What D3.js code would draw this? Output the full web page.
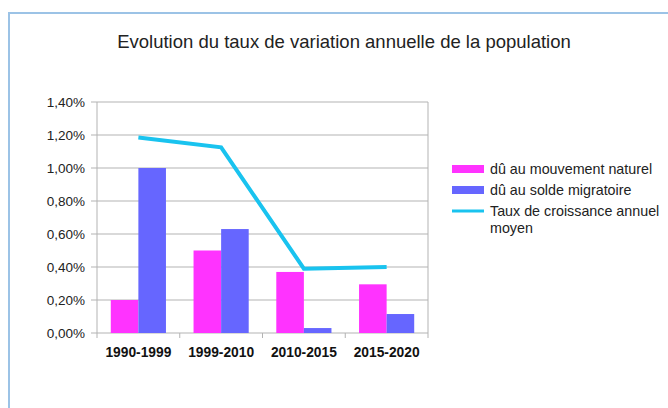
<!DOCTYPE html>
<html>
<head>
<meta charset="utf-8">
<script src="https://cdn.jsdelivr.net/npm/d3@7"></script>
<style>
  body { margin: 0; background: #fff; }
  svg { display: block; font-family: 'Liberation Sans', Arial, sans-serif; }
</style>
</head>
<body>
<div id="chart"></div>
<script>
const categories = ['1990-1999', '1999-2010', '2010-2015', '2015-2020'];
const naturel = [0.20, 0.50, 0.37, 0.295];
const migratoire = [1.00, 0.63, 0.03, 0.115];
const croissance = [1.185, 1.125, 0.39, 0.40];
const yTicks = [0, 0.2, 0.4, 0.6, 0.8, 1.0, 1.2, 1.4];
const seriesNames = ['dû au mouvement naturel', 'dû au solde migratoire', 'Taux de croissance annuel moyen'];

const width = 668;
const height = 408;
const margin = { top: 102, left: 97, right: 240, bottom: 75 };

const svg = d3.select('#chart')
  .append('svg')
  .attr('width', width)
  .attr('height', height);

// outer frame
svg.append('rect')
  .attr('x', 9)
  .attr('y', 13)
  .attr('width', 700)
  .attr('height', 500)
  .attr('fill', 'none')
  .attr('stroke', '#9cc3e6')
  .attr('stroke-width', 2);

svg.append('text')
  .text('Evolution du taux de variation annuelle de la population')
  .attr('x', 344)
  .attr('y', 48)
  .attr('text-anchor', 'middle')
  .attr('fill', '#222')
  .style('font-size', '18.5px');

const x = d3.scaleBand()
  .domain(categories)
  .range([margin.left, margin.left + 331]);

const x1 = d3.scaleBand()
  .domain([0, 1])
  .range([0, x.bandwidth()])
  .paddingOuter(0.5)
  .paddingInner(0);

const y = d3.scaleLinear()
  .domain([0, 1.4])
  .range([333, 102]);

const fmt = (d) => d3.format('.2f')(d).replace('.', ',') + '%';

// grid
svg.append('g')
  .selectAll('line')
  .data(yTicks)
  .enter()
  .append('line')
  .attr('x1', x.range()[0] - 6)
  .attr('x2', x.range()[1])
  .attr('y1', (d) => y(d))
  .attr('y2', (d) => y(d))
  .attr('stroke', '#b3b3b3');

svg.append('line')
  .attr('x1', x.range()[1])
  .attr('x2', x.range()[1])
  .attr('y1', y(1.4))
  .attr('y2', y(0) + 5)
  .attr('stroke', '#b3b3b3');

svg.append('line')
  .attr('x1', x.range()[0])
  .attr('x2', x.range()[0])
  .attr('y1', y(1.4))
  .attr('y2', y(0) + 5)
  .attr('stroke', '#b3b3b3');

svg.append('g')
  .selectAll('line')
  .data(categories.slice(1))
  .enter()
  .append('line')
  .attr('x1', (d) => x(d))
  .attr('x2', (d) => x(d))
  .attr('y1', y(0))
  .attr('y2', y(0) + 5)
  .attr('stroke', '#b3b3b3');

svg.append('g')
  .selectAll('text')
  .data(yTicks)
  .enter()
  .append('text')
  .text(fmt)
  .attr('x', 85)
  .attr('y', (d) => y(d) + 4.5)
  .attr('text-anchor', 'end')
  .attr('fill', '#222')
  .style('font-size', '13.5px');

svg.append('g')
  .selectAll('text')
  .data(categories)
  .enter()
  .append('text')
  .text((d) => d)
  .attr('x', (d) => x(d) + x.bandwidth() / 2)
  .attr('y', 357)
  .attr('text-anchor', 'middle')
  .attr('fill', '#111')
  .style('font-size', '13.8px')
  .style('font-weight', 'bold');

// bars
const colors = ['#ff33ff', '#6666ff', '#19c3ef'];
[naturel, migratoire].forEach((values, s) => {
  svg.append('g')
    .selectAll('rect')
    .data(values)
    .enter()
    .append('rect')
    .attr('x', (d, i) => x(categories[i]) + x1(s))
    .attr('y', (d) => y(d))
    .attr('width', x1.bandwidth())
    .attr('height', (d) => y(0) - y(d))
    .attr('fill', colors[s]);
});

const line = d3.line()
  .x((d, i) => x(categories[i]) + x.bandwidth() / 2)
  .y((d) => y(d));

svg.append('path')
  .datum(croissance)
  .attr('d', line)
  .attr('fill', 'none')
  .attr('stroke', colors[2])
  .attr('stroke-width', 4);

// legend
const legend = svg.append('g').attr('transform', 'translate(452,0)');
legend.append('rect').attr('x', 0).attr('y', 165).attr('width', 32).attr('height', 8).attr('fill', colors[0]);
legend.append('rect').attr('x', 0).attr('y', 186).attr('width', 32).attr('height', 8).attr('fill', colors[1]);
legend.append('line').attr('x1', 0).attr('x2', 32).attr('y1', 211).attr('y2', 211)
  .attr('stroke', colors[2]).attr('stroke-width', 3);

const lt = legend.append('g')
  .attr('fill', '#222')
  .style('font-size', '14.3px');
lt.append('text').text(seriesNames[0]).attr('x', 38).attr('y', 174);
lt.append('text').text(seriesNames[1]).attr('x', 38).attr('y', 195);
lt.append('text').text('Taux de croissance annuel').attr('x', 38).attr('y', 216);
lt.append('text').text('moyen').attr('x', 38).attr('y', 233);
</script>
</body>
</html>
